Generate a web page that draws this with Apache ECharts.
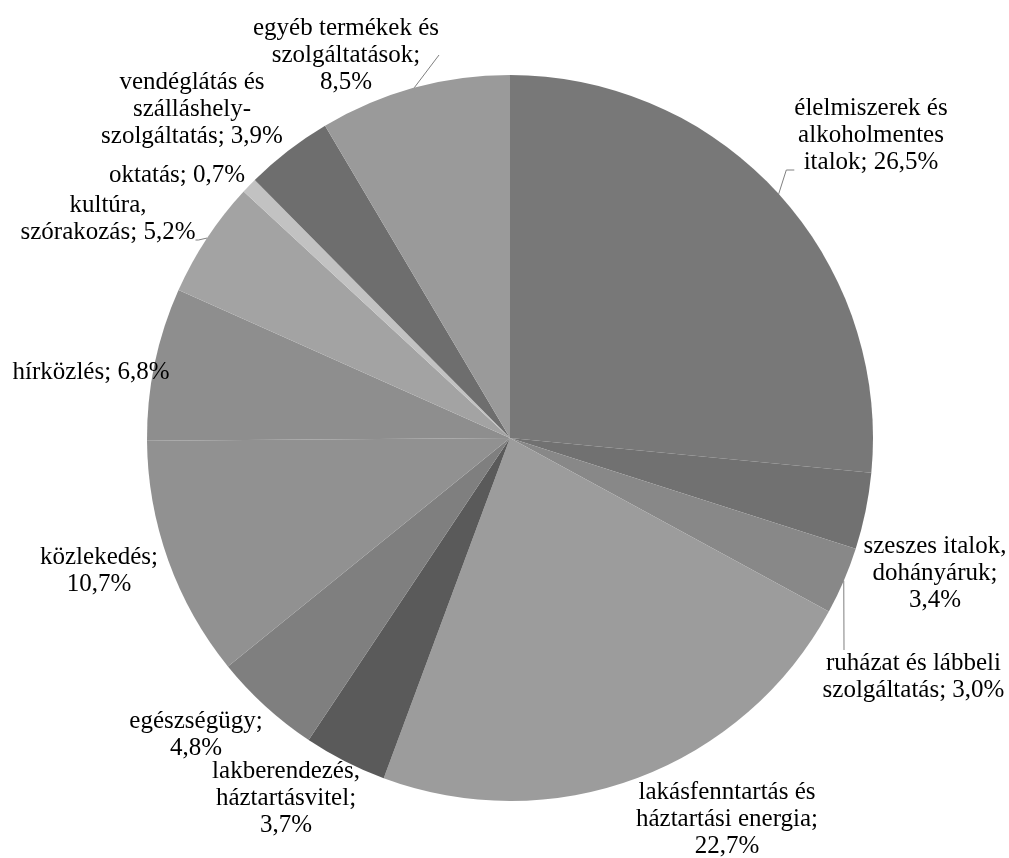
<!DOCTYPE html>
<html><head><meta charset="utf-8">
<script src="https://cdn.jsdelivr.net/npm/echarts@6/dist/echarts.min.js"></script>
<style>html,body{margin:0;padding:0;background:#fff}#c{width:1009px;height:858px}</style>
</head><body><div id="c"></div>
<script>
var categories = [
  "élelmiszerek és\nalkoholmentes\nitalok",
  "szeszes italok,\ndohányáruk;\n",
  "ruházat és lábbeli\nszolgáltatás",
  "lakásfenntartás és\nháztartási energia;\n",
  "lakberendezés,\nháztartásvitel;\n",
  "egészségügy;\n",
  "közlekedés;\n",
  "hírközlés",
  "kultúra,\nszórakozás",
  "oktatás",
  "vendéglátás és\nszálláshely-\nszolgáltatás",
  "egyéb termékek és\nszolgáltatások;\n"
];
var values = [26.5, 3.4, 3.0, 22.7, 3.7, 4.8, 10.7, 6.8, 5.2, 0.7, 3.9, 8.5];
var colors = ["#787878","#717171","#888888","#9c9c9c","#5a5a5a","#7f7f7f","#919191","#8e8e8e","#a3a3a3","#c2c2c2","#6e6e6e","#9a9a9a"];
// label box anchor positions, extra box space (to steer the leader line) and leader visibility
var labelPos = [[871,170],[935,573],[844,677],[727,819],[286,798],[196,735],[99,571],[91,372],[108,240],[177,175],[192,109],[346,55]];
var labelPad = [0,0,[0,0,0,139],0,0,0,0,0,0,0,0,0];
var labelGap = [70,0,0,0,0,0,0,0,42,0,0,0];
var showLine = [true,false,true,false,false,false,false,false,true,false,false,true];
var lineLen2 = [8,0,0,0,0,0,0,0,3,0,0,10];

function fmt(i){
  var c = categories[i], v = values[i].toFixed(1).replace('.', ',') + '%';
  var s = (c.charAt(c.length-1) === '\n') ? c + v : c + '; ' + v;
  if (labelGap[i]) s += '\n{g' + i + '| }';
  return s;
}

var rich = {};
labelGap.forEach(function(g,i){ if (g) rich['g'+i] = {lineHeight: g, height: g, fontSize: 2}; });

var data = values.map(function(v,i){
  return {
    name: categories[i], value: v,
    itemStyle: {color: colors[i]},
    label: {formatter: fmt(i), padding: labelPad[i]},
    labelLine: {show: showLine[i], length2: lineLen2[i]}
  };
});

var chart = echarts.init(document.getElementById('c'));
chart.setOption({
  backgroundColor: '#fff',
  animation: false,
  series: [{
    type: 'pie',
    center: [510, 438],
    radius: [0, 363],
    startAngle: 90,
    clockwise: true,
    avoidLabelOverlap: false,
    data: data,
    itemStyle: {borderWidth: 0},
    label: {
      show: true, position: 'outside',
      fontFamily: '"Liberation Serif", "DejaVu Serif", serif', fontSize: 25, lineHeight: 27,
      color: '#000', align: 'center', rich: rich
    },
    labelLine: {lineStyle: {color: '#808080', width: 1}, length: 10, length2: 10},
    labelLayout: function(p){
      var pos = labelPos[p.dataIndex];
      return {x: pos[0], y: pos[1], align: 'center', verticalAlign: 'middle'};
    }
  }]
});
</script></body></html>
